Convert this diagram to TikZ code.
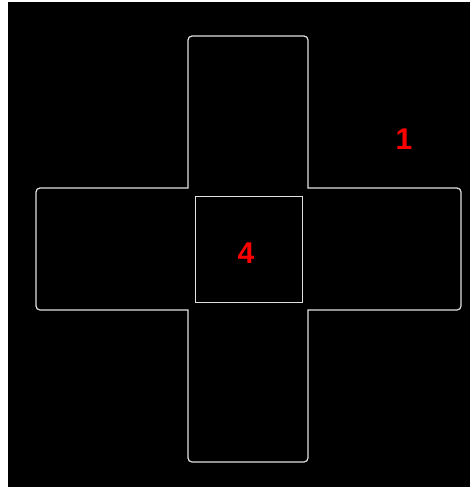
\documentclass[tikz,border=0pt]{standalone}
\usepackage{fontspec}
\setsansfont{Liberation Sans}
\definecolor{edgegray}{RGB}{225,225,225}
\definecolor{numred}{RGB}{255,0,0}
\begin{document}
\begin{tikzpicture}[x=1pt, y=-1pt,
		outline/.style={draw=edgegray, line width=1.2pt},
		partno/.style={text=numred, font=\sffamily\bfseries\fontsize{30}{31}\selectfont, inner sep=0pt}]
		\useasboundingbox (0,0) rectangle (470,487);
		\fill[black] (8,2) rectangle (470,487);
		% cross shaped blank, only the outer corners rounded
		\draw[outline] (248,36) [rounded corners=4pt] -- (308,36)
			[sharp corners] -- (308,188) [rounded corners=4pt] -- (461,188) -- (461,310)
			[sharp corners] -- (308,310) [rounded corners=4pt] -- (308,462) -- (188,462)
			[sharp corners] -- (188,310) [rounded corners=4pt] -- (36,310) -- (36,188)
			[sharp corners] -- (188,188) [rounded corners=4pt] -- (188,36) -- cycle;
		\draw[outline] (195.6,196.4) rectangle (302.4,302.6);
		\node[partno] (one) at (404,139) {1};
		\node[partno] (four) at (246,253) {4};
	\end{tikzpicture}
\end{document}
